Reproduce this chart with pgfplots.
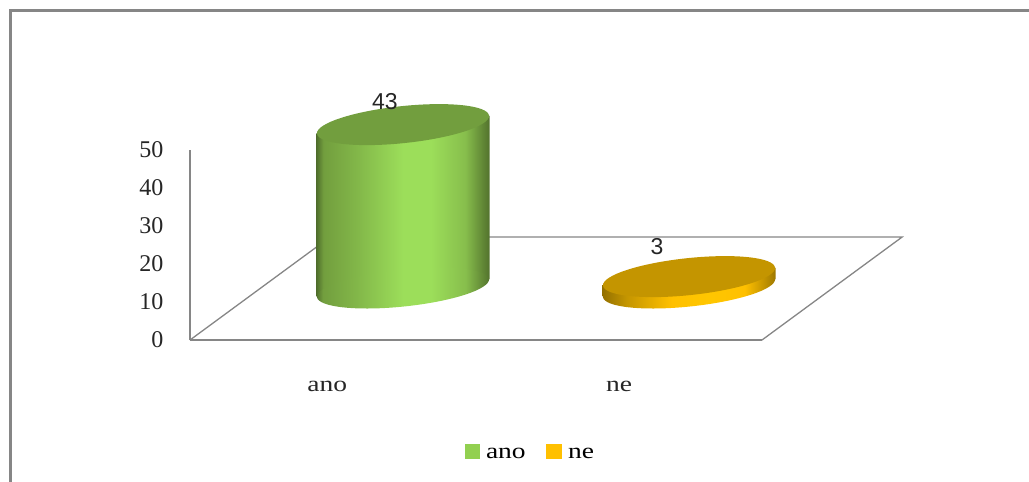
\documentclass[border=0pt]{standalone}
\usepackage{fontspec}
\setmainfont{Liberation Serif}
\newfontfamily\valfont{Liberation Sans}
\usepackage{pgfplots}
\pgfplotsset{compat=1.18}
\usetikzlibrary{shapes.geometric}

\definecolor{framegray}{HTML}{868686}
\definecolor{topgreen}{HTML}{729E3E}
\definecolor{topyellow}{HTML}{C49500}
\definecolor{keygreen}{HTML}{92D050}
\definecolor{keyyellow}{HTML}{FFC000}
\definecolor{brightgreen}{HTML}{9CDE5A}

% stops between 25bp and 75bp span the path's width
\pgfdeclarehorizontalshading{cylgreen}{100bp}{
  color(0bp)=(black!30!topgreen);
  color(25bp)=(black!30!topgreen);
  color(27bp)=(topgreen);
  color(37bp)=(topgreen!60!brightgreen);
  color(50bp)=(brightgreen);
  color(58bp)=(brightgreen);
  color(68bp)=(topgreen!50!brightgreen);
  color(75bp)=(black!28!topgreen);
  color(100bp)=(black!28!topgreen)}
\pgfdeclarehorizontalshading{cylyellow}{100bp}{
  color(0bp)=(black!25!topyellow);
  color(25bp)=(black!25!topyellow);
  color(32bp)=(topyellow);
  color(45bp)=(keyyellow);
  color(56bp)=(keyyellow!90!yellow);
  color(66bp)=(keyyellow);
  color(75bp)=(black!20!topyellow);
  color(100bp)=(black!20!topyellow)}

\begin{document}
\begin{tikzpicture}
\useasboundingbox (-190pt,-142pt) rectangle (839pt,340pt);
\begin{axis}[
    at={(0pt,0pt)}, anchor=south west,
    scale only axis,
    width=572pt, height=190pt,
    xmin=-0.5, xmax=1.5,
    ymin=0, ymax=50,
    ytick={0,10,20,30,40,50},
    xtick={-0.02,1},
    xticklabels={ano,ne},
    major tick length=0pt,
    axis x line*=bottom,
    axis y line*=left,
    axis line style={draw=framegray, line width=1.5pt, -},
    /pgf/number format/assume math mode=true,
    yticklabel style={font=\fontsize{24}{26}\selectfont, xshift=-23pt, text=black!85},
    xticklabel style={font=\fontsize{22}{24}\selectfont, xscale=1.25, yshift=-38pt, text=black!85},
    clip=false,
    legend columns=2,
    legend cell align=left,
    legend style={
      at={(axis cs:0.69,-29.7)}, anchor=center, draw=none, fill=none,
      font=\fontsize{22}{24}\selectfont,
      /tikz/every even column/.append style={column sep=18pt}},
]
% floor, back and side edges
\addplot[forget plot, draw=framegray, line width=1.3pt]
  coordinates {(-0.5,0) (-0.01,27.1) (1.99,27.1) (1.5,0)};

% ano: body, base and top
\addplot[forget plot, ybar, bar width=173pt, bar shift=0pt, draw=none,
    shade, shading=cylgreen, xshift=70pt, yshift=37.7pt, yslant=0.1]
  coordinates {(0,43)};
\addplot[forget plot, only marks, mark=none, point meta=y, nodes near coords={},
    xshift=70pt, yshift=52pt,
    every node near coord/.style={ellipse, anchor=center, inner sep=0pt, outer sep=0pt,
      minimum width=173pt, minimum height=37pt, rotate=6, shade, shading=cylgreen}]
  coordinates {(0,0)};
\addplot[forget plot, only marks, mark=none, point meta=y, nodes near coords={},
    xshift=70pt, yshift=52pt,
    every node near coord/.style={ellipse, anchor=center, inner sep=0pt, outer sep=0pt,
      minimum width=173pt, minimum height=37pt, rotate=6, fill=topgreen}]
  coordinates {(0,43)};

% ne: body, base and top
\addplot[forget plot, ybar, bar width=173pt, bar shift=0pt, draw=none,
    shade, shading=cylyellow, xshift=70pt, yshift=9.1pt, yslant=0.1]
  coordinates {(1,3)};
\addplot[forget plot, only marks, mark=none, point meta=y, nodes near coords={},
    xshift=70pt, yshift=52pt,
    every node near coord/.style={ellipse, anchor=center, inner sep=0pt, outer sep=0pt,
      minimum width=173pt, minimum height=37pt, rotate=6, shade, shading=cylyellow}]
  coordinates {(1,0)};
\addplot[forget plot, only marks, mark=none, point meta=y, nodes near coords={},
    xshift=70pt, yshift=52pt,
    every node near coord/.style={ellipse, anchor=center, inner sep=0pt, outer sep=0pt,
      minimum width=173pt, minimum height=37pt, rotate=6, fill=topyellow}]
  coordinates {(1,3)};

% value labels
\addplot[forget plot, only marks, mark=none, point meta=y, nodes near coords,
    xshift=52pt, yshift=75.5pt,
    every node near coord/.style={anchor=center, inner sep=0pt,
      font=\valfont\fontsize{23}{25}\selectfont, text=black!85}]
  coordinates {(0,43)};
\addplot[forget plot, only marks, mark=none, point meta=y, nodes near coords,
    xshift=38pt, yshift=82pt,
    every node near coord/.style={anchor=center, inner sep=0pt,
      font=\valfont\fontsize{23}{25}\selectfont, text=black!85}]
  coordinates {(1,3)};

% legend
\addlegendimage{legend image code/.code={\fill[keygreen] (0pt,-4pt) rectangle (14pt,10pt);}}
\addlegendentry{\hspace{5pt}\scalebox{1.25}[1]{ano}}
\addlegendimage{legend image code/.code={\fill[keyyellow] (0pt,-4pt) rectangle (15pt,10pt);}}
\addlegendentry{\hspace{5pt}\scalebox{1.25}[1]{ne}}
\end{axis}
% frame, left and top edges only
\draw[framegray, line width=3pt] (-179.5pt,-142pt) -- (-179.5pt,329.5pt) -- (839pt,329.5pt);
\end{tikzpicture}
\end{document}
